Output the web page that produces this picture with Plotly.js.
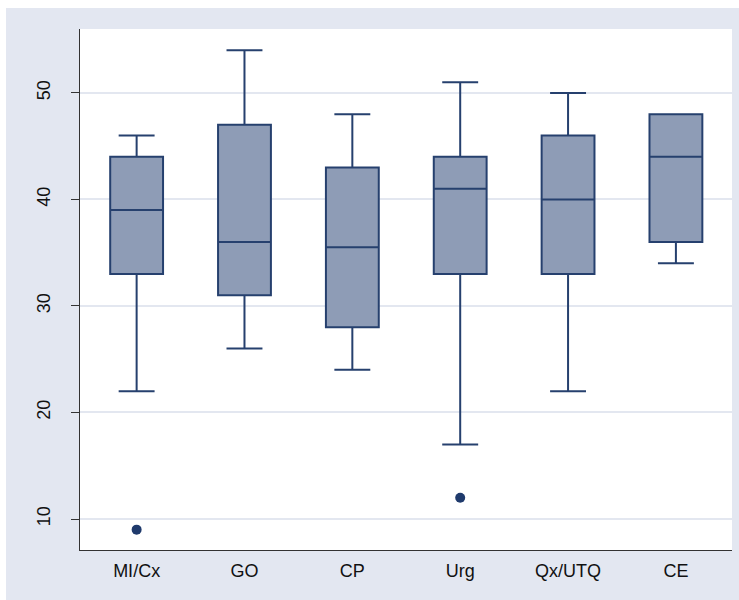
<!DOCTYPE html>
<html>
<head>
<meta charset="utf-8">
<script src="https://cdn.plot.ly/plotly-3.0.1.min.js"></script>
<style>
html,body{margin:0;padding:0;background:#fff;}
#wrap{position:relative;width:739px;height:600px;}
#bg{position:absolute;left:6px;top:8px;width:733px;height:592px;background:#e3e7f1;}
#chart{position:absolute;left:0;top:0;width:739px;height:600px;}
</style>
</head>
<body>
<div id="wrap"><div id="bg"></div><div id="chart"></div></div>
<script>
var categories = ["MI/Cx", "GO", "CP", "Urg", "Qx/UTQ", "CE"];
var lowerWhisker = [22, 26, 24, 17, 22, 34];
var q1 = [33, 31, 28, 33, 33, 36];
var median = [39, 36, 35.5, 41, 40, 44];
var q3 = [44, 47, 43, 44, 46, 48];
var upperWhisker = [46, 54, 48, 51, 50, 48];
var outlierCats = ["MI/Cx", "Urg"];
var outlierVals = [9, 12];
var yTicks = [10, 20, 30, 40, 50];

var navy = "#26406e";
var traces = [{
  type: "box",
  x: categories,
  q1: q1,
  median: median,
  q3: q3,
  lowerfence: lowerWhisker,
  upperfence: upperWhisker,
  boxpoints: false,
  width: 0.49,
  whiskerwidth: 0.68,
  fillcolor: "#8e9cb6",
  line: {color: navy, width: 2},
  hoverinfo: "none",
  showlegend: false
}, {
  type: "scatter",
  mode: "markers",
  x: outlierCats,
  y: outlierVals,
  marker: {color: "#1f3a6c", size: 10},
  hoverinfo: "none",
  showlegend: false
}];

var layout = {
  width: 739, height: 600,
  margin: {l: 80, r: 7, t: 29, b: 50},
  paper_bgcolor: "rgba(0,0,0,0)",
  plot_bgcolor: "#ffffff",
  font: {family: "Liberation Sans, Arial, sans-serif", size: 18, color: "#111"},
  showlegend: false,
  xaxis: {
    type: "category",
    categoryorder: "array",
    categoryarray: categories,
    range: [-0.525, 5.52],
    showgrid: false,
    zeroline: false,
    showline: true,
    linecolor: "#333",
    linewidth: 1.2,
    ticks: "",
    ticklabelstandoff: 4,
    tickfont: {size: 18}
  },
  yaxis: {
    range: [7.09, 56.0],
    tickvals: yTicks,
    ticktext: yTicks.map(String),
    tickangle: -90,
    showgrid: true,
    gridcolor: "#e3e7f0",
    gridwidth: 2,
    zeroline: false,
    showline: true,
    linecolor: "#333",
    linewidth: 1.2,
    ticks: "outside",
    ticklen: 8,
    tickcolor: "#333",
    ticklabelstandoff: 14,
    tickfont: {size: 18}
  }
};

Plotly.newPlot("chart", traces, layout, {displayModeBar: false, staticPlot: true});
</script>
</body>
</html>
